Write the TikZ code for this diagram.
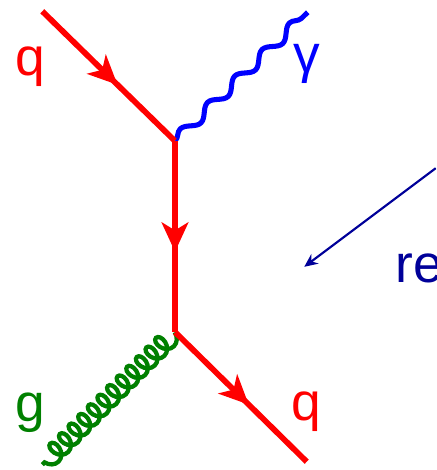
\documentclass[tikz,border=0pt]{standalone}
\usepackage{fontspec}
\usepackage{xcolor}
\setmainfont{Liberation Sans}
\usetikzlibrary{arrows.meta,decorations.pathmorphing,decorations.markings}
\definecolor{gluongreen}{RGB}{0,128,0}
\definecolor{arrowblue}{RGB}{0,0,153}
\tikzset{
    label text/.style={inner sep=0pt, anchor=base west, font=\fontsize{40}{48}\selectfont},
    vertex/.style={inner sep=0pt, minimum size=0pt},
    quark/.style={draw=red, line width=4.3pt, line join=round, postaction={decorate},
        decoration={markings, mark=at position #1 with {\arrow[red]{Stealth[length=22pt,width=20pt,inset=6pt]}}}},
    photon/.style={draw=blue, line width=3.8pt, decorate,
        decoration={snake, segment length=28.5pt, amplitude=3.8pt}},
    gluon/.style={draw=gluongreen, line width=3.2pt, decorate,
        decoration={coil, aspect=0.75, segment length=10.2pt, amplitude=7pt}},
}

\begin{document}
\begin{tikzpicture}[x=0.75pt, y=-0.75pt]
    \clip (0, 0) rectangle (436, 470);

    \node[vertex] (top) at (175, 141) {};
    \node[vertex] (bottom) at (175, 332) {};
    \node[vertex] (q_in) at (42, 11) {};
    \node[vertex] (q_out) at (307, 462) {};
    \node[vertex] (photon_end) at (308, 12) {};
    \node[vertex] (gluon_end) at (42, 465) {};
    \node[vertex] (re_from) at (436, 168) {};
    \node[vertex] (re_to) at (304, 267) {};

    \node[label text, text=red] (q_left) at (15, 76) {q};
    \node[label text, text=blue] (gamma) at (293, 73) {γ};
    \node[label text, text=gluongreen] (g) at (15, 421) {g};
    \node[label text, text=red] (q_right) at (291, 420) {q};
    \node[label text, text=arrowblue] (re) at (395, 282) {re};

    \draw[photon] (top) -- (photon_end);
    \draw[gluon] (bottom) -- (gluon_end);
    \draw[quark=0.57] (q_in) -- (top);
    \draw[quark=0.58, line width=3.8pt] (top) -- (bottom);
    \draw[quark=0.56] (bottom) -- (q_out);
    \draw[-{Stealth[length=10pt,width=9pt]}, arrowblue, line width=1.6pt] (re_from) -- (re_to);
\end{tikzpicture}
\end{document}
